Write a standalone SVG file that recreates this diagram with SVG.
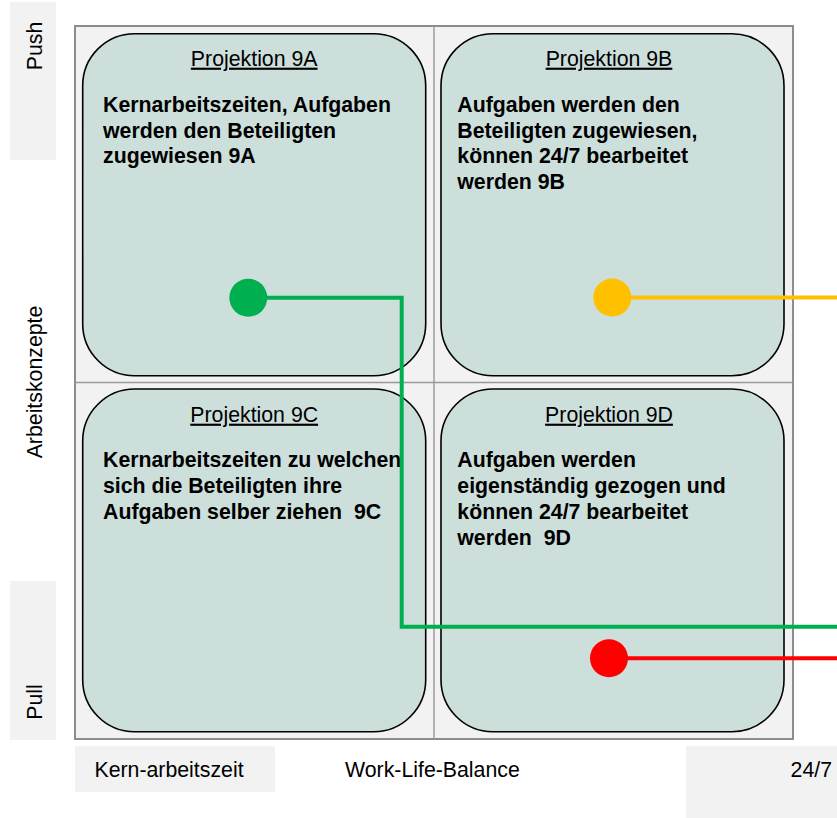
<svg xmlns="http://www.w3.org/2000/svg" width="837" height="818" viewBox="0 0 837 818">
<style>
text{font-family:"Liberation Sans",Arial,sans-serif;fill:#000;font-size:21.3px;white-space:pre}
.title{text-anchor:middle;text-decoration:underline}
.body{font-weight:bold}
.node{fill:#cddfdb;stroke:#000;stroke-width:1.6}
.lab{fill:#f2f2f2}
.conn{fill:none;stroke-width:4;stroke-linejoin:miter}
</style>
<rect width="837" height="818" fill="#fff"/>
<g id="grid">
<rect x="75" y="26" width="718" height="713" fill="#f2f2f2" stroke="#8c8c8c" stroke-width="2"/>
<line x1="434" y1="26" x2="434" y2="739" stroke="#999" stroke-width="1.4"/>
<line x1="75" y1="382.5" x2="793" y2="382.5" stroke="#999" stroke-width="1.4"/>
</g>
<g id="axis-push"><rect class="lab" x="10" y="2" width="46" height="158"/><text transform="translate(41.7 46) rotate(-90)" text-anchor="middle">Push</text></g>
<g id="axis-pull"><rect class="lab" x="10" y="581" width="46" height="159"/><text transform="translate(41.7 702) rotate(-90)" text-anchor="middle">Pull</text></g>
<g id="axis-arbeitskonzepte"><text transform="translate(41.7 382) rotate(-90)" text-anchor="middle">Arbeitskonzepte</text></g>
<g id="axis-kern"><rect class="lab" x="75" y="746" width="200" height="46"/><text x="169" y="777" text-anchor="middle">Kern-arbeitszeit</text></g>
<g id="axis-wlb"><text x="345" y="777">Work-Life-Balance</text></g>
<g id="axis-247"><rect class="lab" x="686" y="746" width="151" height="72"/><text x="832" y="777" text-anchor="end">24/7</text></g>
<g id="node-9A">
<rect class="node" x="82.7" y="33.7" width="343" height="342" rx="52"/>
<text class="title" x="254.2" y="65.7">Projektion 9A</text>
<text class="body" x="103" y="111.7">Kernarbeitszeiten, Aufgaben</text>
<text class="body" x="103" y="137.5">werden den Beteiligten</text>
<text class="body" x="103" y="163">zugewiesen 9A</text>
</g>
<g id="node-9B">
<rect class="node" x="441" y="33.7" width="343" height="342" rx="52"/>
<text class="title" x="609" y="65.7">Projektion 9B</text>
<text class="body" x="457.3" y="111.7">Aufgaben werden den</text>
<text class="body" x="457.3" y="137.5">Beteiligten zugewiesen,</text>
<text class="body" x="457.3" y="163">können 24/7 bearbeitet</text>
<text class="body" x="457.3" y="188.7">werden 9B</text>
</g>
<g id="node-9C">
<rect class="node" x="82.7" y="389" width="343" height="342.7" rx="52"/>
<text class="title" x="254.2" y="421.7">Projektion 9C</text>
<text class="body" x="103" y="467.3">Kernarbeitszeiten zu welchen</text>
<text class="body" x="103" y="493.3">sich die Beteiligten ihre</text>
<text class="body" x="103" y="519">Aufgaben selber ziehen  9C</text>
</g>
<g id="node-9D">
<rect class="node" x="441" y="389" width="343" height="342.7" rx="52"/>
<text class="title" x="609" y="421.7">Projektion 9D</text>
<text class="body" x="457.3" y="467.3">Aufgaben werden</text>
<text class="body" x="457.3" y="493.3">eigenständig gezogen und</text>
<text class="body" x="457.3" y="519">können 24/7 bearbeitet</text>
<text class="body" x="457.3" y="544.5">werden  9D</text>
</g>
<g id="connectors">
<polyline class="conn" stroke="#00b050" points="248.3,297.7 401.7,297.7 401.7,626.7 837,626.7"/>
<circle cx="248.3" cy="297.7" r="19" fill="#00b050"/>
<line class="conn" stroke="#ffc000" x1="612.3" y1="297.5" x2="837" y2="297.5"/>
<circle cx="612.3" cy="297.5" r="19" fill="#ffc000"/>
<line class="conn" stroke="#ff0000" x1="609" y1="658.3" x2="837" y2="658.3"/>
<circle cx="609" cy="658.3" r="19" fill="#ff0000"/>
</g>
</svg>
